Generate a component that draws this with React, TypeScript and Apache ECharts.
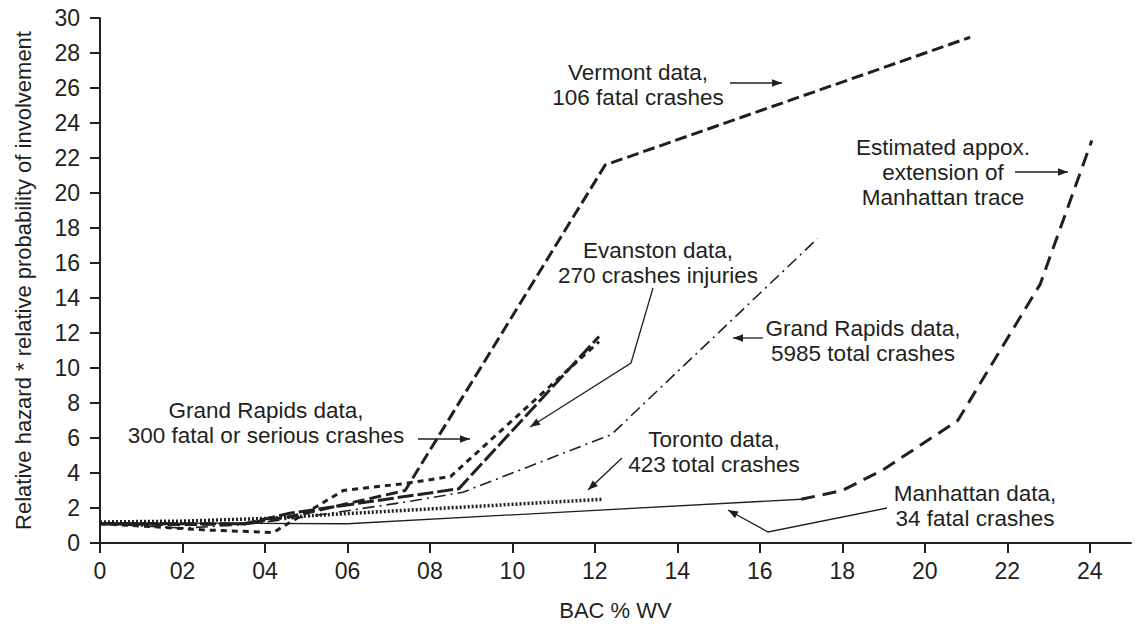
import React, { useEffect, useRef } from "react";
import * as echarts from "echarts";

// ---- data (BAC % WV on x, relative hazard on y) ----
const xTicks = [0, 2, 4, 6, 8, 10, 12, 14, 16, 18, 20, 22, 24];
const vermont = [[0, 1.1], [2, 1.05], [3.5, 1.1], [4.6, 1.5], [7.4, 3.0], [12.25, 21.6], [21.1, 28.9]];
const evanston = [[0, 1.1], [2, 1.1], [3.5, 1.1], [4.6, 1.7], [8.7, 3.1], [12.1, 11.8]];
const grandRapids300 = [[0, 1.1], [1.5, 0.9], [2.5, 0.75], [4.2, 0.6], [5.9, 3.0], [7.4, 3.4], [8.5, 3.8], [12.1, 11.5]];
const grandRapids5985 = [[0, 1.1], [2, 0.85], [3.5, 1.05], [5, 1.5], [7.3, 2.3], [8.8, 2.9], [12.4, 6.2], [17.4, 17.4]];
const toronto = [[0, 1.2], [2, 1.25], [4, 1.4], [5, 1.55], [12.2, 2.5]];
const manhattan = [[0, 1.15], [6, 1.1], [17, 2.5]];
const manhattanExt = [[17, 2.5], [18, 3.0], [19, 4.2], [20.8, 7.0], [22.8, 14.8], [24.05, 23.0]];

const INK = "#231f20";
const FONT = "Arial, 'Liberation Sans', sans-serif";

// annotation texts
const notes = [
  { text: "Vermont data,\n106 fatal crashes", x: 638, y: 85 },
  { text: "Estimated appox.\nextension of\nManhattan trace", x: 943, y: 172 },
  { text: "Evanston data,\n270 crashes injuries", x: 658, y: 263 },
  { text: "Grand Rapids data,\n5985 total crashes", x: 863, y: 341 },
  { text: "Grand Rapids data,\n300 fatal or serious crashes", x: 266, y: 423 },
  { text: "Toronto data,\n423 total crashes", x: 714, y: 452 },
  { text: "Manhattan data,\n34 fatal crashes", x: 975, y: 506 },
];
// leader lines: point lists, arrow head at last point
const leaders = [
  [[730, 83], [782, 83]],
  [[1015, 172], [1068, 172]],
  [[763, 338], [733, 338]],
  [[418, 439], [470, 439]],
  [[622, 458], [588, 490]],
  [[653, 288], [631, 363], [530, 427]],
  [[887, 508], [768, 532], [728, 510]],
];

function buildGraphics() {
  const els: any[] = [];
  notes.forEach((n) => {
    els.push({
      type: "text",
      x: n.x,
      y: n.y,
      style: {
        text: n.text,
        font: `22.5px ${FONT}`,
        fill: INK,
        align: "center",
        verticalAlign: "middle",
        lineHeight: 25,
      },
      z: 10,
    });
  });
  leaders.forEach((pts) => {
    els.push({
      type: "polyline",
      shape: { points: pts },
      style: { stroke: INK, lineWidth: 1.3, fill: "none" },
      z: 10,
    });
    const [x1, y1] = pts[pts.length - 2];
    const [x2, y2] = pts[pts.length - 1];
    const dx = x2 - x1, dy = y2 - y1;
    const len = Math.sqrt(dx * dx + dy * dy);
    const ux = dx / len, uy = dy / len;
    const L = 10, W = 3.8;
    const bx = x2 - ux * L, by = y2 - uy * L;
    els.push({
      type: "polygon",
      shape: { points: [[x2, y2], [bx - uy * W, by + ux * W], [bx + uy * W, by - ux * W]] },
      style: { fill: INK, stroke: "none" },
      z: 10,
    });
  });
  return els;
}

function line(name: string, data: number[][], type: any, width: number) {
  return {
    name,
    type: "line",
    data,
    showSymbol: false,
    symbol: "none",
    lineStyle: { color: INK, width, type, cap: "butt", join: "miter" },
    z: 3,
  };
}

export default function App() {
  const ref = useRef<HTMLDivElement>(null);
  useEffect(() => {
    if (!ref.current) return;
    const chart = echarts.init(ref.current, null, { renderer: "svg" });
    chart.setOption({
      animation: false,
      backgroundColor: "#ffffff",
      grid: { left: 100, right: 4, top: 18, bottom: 84, containLabel: false },
      xAxis: {
        type: "value",
        min: 0,
        max: 25,
        interval: 2,
        name: "BAC % WV",
        nameLocation: "middle",
        nameGap: 56,
        nameTextStyle: { fontSize: 22, color: INK, fontFamily: FONT },
        axisLine: { lineStyle: { color: INK, width: 2 } },
        axisTick: { show: true, length: 10, inside: false, customValues: xTicks, lineStyle: { color: INK, width: 2 } },
        axisLabel: {
          customValues: xTicks,
          margin: 16,
          fontSize: 23,
          color: INK,
          fontFamily: FONT,
          formatter: (v: number) => (v === 0 ? "0" : String(v).padStart(2, "0")),
        },
        splitLine: { show: false },
      },
      yAxis: {
        type: "value",
        min: 0,
        max: 30,
        interval: 2,
        name: "Relative hazard * relative probability of involvement",
        nameLocation: "middle",
        nameGap: 66,
        nameTextStyle: { fontSize: 22, color: INK, fontFamily: FONT },
        axisLine: { show: true, lineStyle: { color: INK, width: 2 } },
        axisTick: { show: true, length: 10, inside: false, lineStyle: { color: INK, width: 2 } },
        axisLabel: { margin: 20, fontSize: 23, color: INK, fontFamily: FONT },
        splitLine: { show: false },
      },
      series: [
        line("Manhattan", manhattan, "solid", 1.3),
        line("Manhattan extension", manhattanExt, [14, 8], 3),
        line("Toronto", toronto, [2, 2], 3.5),
        line("Grand Rapids 5985", grandRapids5985, [12, 5, 2, 5], 1.6),
        line("Grand Rapids 300", grandRapids300, [6, 5], 3),
        line("Evanston", evanston, [16, 4], 3),
        line("Vermont", vermont, [12, 5], 3),
      ],
      graphic: buildGraphics(),
    });
    return () => chart.dispose();
  }, []);
  return (
    <div
      ref={ref}
      style={{ position: "fixed", left: 0, top: 0, width: 1135, height: 627, background: "#fff" }}
    />
  );
}
